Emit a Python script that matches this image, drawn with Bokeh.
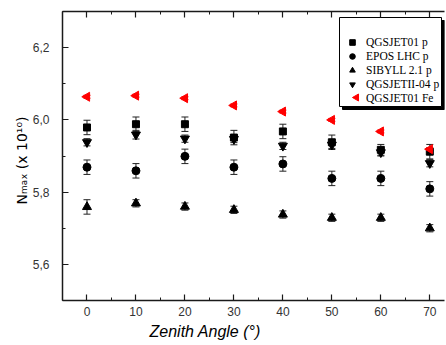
import math
from bokeh.plotting import figure
from bokeh.models import (Range1d, LinearAxis, Whisker, ColumnDataSource, Legend, LegendItem, Title,
                          CustomJSTickFormatter, SingleIntervalTicker, TeeHead)
from bokeh.embed import file_html
from bokeh.resources import INLINE

# ---------------- data ----------------
angles = [0, 10, 20, 30, 40, 50, 60, 70]
qgsjet01_p = [5.979, 5.988, 5.988, 5.951, 5.968, 5.938, 5.917, 5.912]
qgsjet01_p_err = [0.02, 0.02, 0.02, 0.02, 0.02, 0.02, 0.015, 0.02]
epos_p = [5.869, 5.859, 5.899, 5.869, 5.878, 5.838, 5.838, 5.809]
epos_p_err = [0.02, 0.02, 0.02, 0.02, 0.02, 0.02, 0.02, 0.02]
sibyll_p = [5.759, 5.769, 5.760, 5.751, 5.738, 5.729, 5.729, 5.700]
sibyll_p_err = [0.02, 0.01, 0.01, 0.01, 0.01, 0.01, 0.01, 0.01]
qgsjetii_p = [5.938, 5.959, 5.948, 5.947, 5.928, 5.931, 5.910, 5.880]
qgsjetii_p_err = [0.01, 0.012, 0.01, 0.01, 0.01, 0.01, 0.01, 0.01]
qgsjet01_fe = [6.064, 6.067, 6.060, 6.040, 6.023, 6.000, 5.968, 5.919]
qgsjet01_fe_err = [0.004, 0.004, 0.004, 0.004, 0.004, 0.004, 0.004, 0.004]

series_names = ["QGSJET01 p", "EPOS LHC p", "SIBYLL 2.1 p", "QGSJETII-04 p", "QGSJET01 Fe"]
x_title = "Zenith Angle (°)"
y_title = "Nₘₐₓ (x 10¹⁰)"

# ---------------- layout ----------------
W, H = 446, 345
FL, FR, FT, FB = 62, 444, 11, 300
X0, X1 = -5, 73
Y0, Y1 = 5.5, 6.3

def dx(px):
    return X0 + (px - FL) / (FR - FL) * (X1 - X0)

def dy(py):
    return Y1 - (py - FT) / (FB - FT) * (Y1 - Y0)

p = figure(width=W, height=H, output_backend="svg", toolbar_location=None,
           x_range=Range1d(X0, X1), y_range=Range1d(Y0, Y1),
           x_axis_type=None, y_axis_type=None,
           min_border_left=FL, min_border_right=W - FR, min_border_top=FT,
           min_border_bottom=H - FB)
p.outline_line_color = None
p.background_fill_color = "white"
p.border_fill_color = "white"
p.xgrid.visible = False
p.ygrid.visible = False

AX_COLOR = "#1a1a1a"
LBL_COLOR = "#333333"

def style_axis(ax, labels=True):
    ax.axis_line_color = AX_COLOR
    ax.axis_line_width = 1.5
    ax.major_tick_line_color = AX_COLOR
    ax.minor_tick_line_color = AX_COLOR
    ax.major_tick_line_width = 1.2
    ax.minor_tick_line_width = 1.0
    ax.major_tick_in = 6
    ax.major_tick_out = 0
    ax.minor_tick_in = 3
    ax.minor_tick_out = 0
    if labels:
        ax.major_label_text_font = "Liberation Sans"
        ax.major_label_text_font_size = "12px"
        ax.major_label_text_color = LBL_COLOR
    else:
        ax.major_label_text_font_size = "0px"
        ax.major_label_text_color = None
        ax.major_label_standoff = 0

xticker = SingleIntervalTicker(interval=10, num_minor_ticks=2)
yticker = SingleIntervalTicker(interval=0.2, num_minor_ticks=2)

xb = LinearAxis(ticker=xticker)
style_axis(xb)
xb.major_label_standoff = 6
p.add_layout(xb, "below")

xt = LinearAxis(ticker=xticker)
style_axis(xt, labels=False)
p.add_layout(xt, "above")

yl = LinearAxis(ticker=yticker,
                formatter=CustomJSTickFormatter(code="return tick.toFixed(1).replace('.', ',');"))
style_axis(yl)
yl.major_label_standoff = 13
p.add_layout(yl, "left")

# axis titles, placed where the reference has them
p.add_layout(Title(text=x_title, align="left", offset=149 - FL, standoff=4,
                   text_font="Liberation Sans", text_font_size="16px", text_font_style="italic",
                   text_color="black"), "below")
p.add_layout(Title(text=y_title, align="left", offset=FB - 204, standoff=0,
                   text_font="DejaVu Sans", text_font_size="14px", text_font_style="normal",
                   text_color="black"), "left")

# ---------------- legend box (drawn beneath the data) ----------------
LEG_L, LEG_R, LEG_T, LEG_B = 339, 441, 17, 106
SH = 3
p.quad(left=[dx(LEG_L + SH)], right=[dx(LEG_R + SH)], top=[dy(LEG_T + SH)], bottom=[dy(LEG_B + SH)],
       fill_color="black", line_color="black")
p.quad(left=[dx(LEG_L)], right=[dx(LEG_R)], top=[dy(LEG_T)], bottom=[dy(LEG_B)],
       fill_color="white", line_color="black", line_width=1)

# ---------------- series ----------------
specs = [
    (qgsjet01_p, qgsjet01_p_err, "square", 7, "black", 0),
    (epos_p, epos_p_err, "circle", 8, "black", 0),
    (sibyll_p, sibyll_p_err, "triangle", 9, "black", 0),
    (qgsjetii_p, qgsjetii_p_err, "inverted_triangle", 9, "black", 0),
    (qgsjet01_fe, qgsjet01_fe_err, "triangle", 9, "red", math.pi / 2),
]

PAD, GW, LH = 4, 16, 14
ROW_BOTTOM = 105          # bottom of the legend's content block
CONT_L = 344              # left of the legend's content block
LAST_ROW_Y = ROW_BOTTOM - 8

legend_items = []
for (vals, errs, marker, size, color, ang), name in zip(specs, series_names):
    src = ColumnDataSource(dict(x=angles, y=vals,
                                upper=[v + e for v, e in zip(vals, errs)],
                                lower=[v - e for v, e in zip(vals, errs)]))
    wcol = "#222222" if color == "black" else color
    w = Whisker(source=src, base="x", upper="upper", lower="lower",
                line_color=wcol, line_width=1,
                upper_head=TeeHead(size=7, line_color=wcol, line_width=1),
                lower_head=TeeHead(size=7, line_color=wcol, line_width=1))
    p.add_layout(w)
    r = p.scatter("x", "y", source=src, marker=marker, size=size, angle=ang,
                  fill_color=color, line_color=color)
    if ang == 0:
        legend_items.append(LegendItem(label=name, renderers=[r]))
    else:
        # legend glyphs ignore the marker angle: an invisible stand-in holds the
        # entry, and the rotated marker is drawn in its slot
        ghost = p.scatter(x=[], y=[], marker="square", size=1, fill_alpha=0, line_alpha=0)
        legend_items.append(LegendItem(label=name, renderers=[ghost]))
        p.scatter(x=[dx(CONT_L + PAD + GW / 2)], y=[dy(LAST_ROW_Y)],
                  marker=marker, size=7, angle=ang, fill_color=color, line_color=color)

legend = Legend(items=legend_items, location=(CONT_L - FL, FB - ROW_BOTTOM),
                border_line_color=None, background_fill_alpha=0,
                label_text_font="Liberation Serif", label_text_font_size="11.5px",
                label_text_color="black",
                glyph_width=GW, glyph_height=LH, label_height=LH, spacing=0,
                padding=PAD, label_standoff=6)
p.add_layout(legend, "center")

open("out.html", "w").write(file_html(p, INLINE))
